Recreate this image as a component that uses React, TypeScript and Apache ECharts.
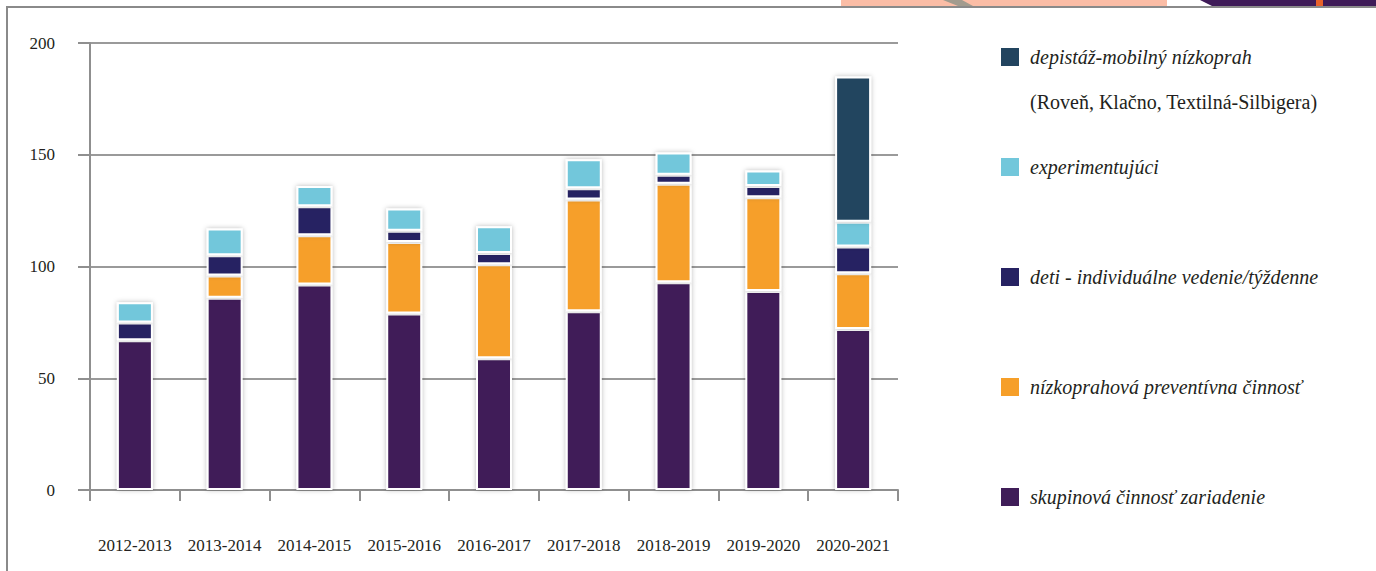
import React, { useEffect, useRef } from "react";
import * as echarts from "echarts";

const categories = [
  "2012-2013", "2013-2014", "2014-2015", "2015-2016", "2016-2017",
  "2017-2018", "2018-2019", "2019-2020", "2020-2021",
];
const skupinova = [67, 86, 92, 79, 59, 80, 93, 89, 72];
const nizkoprahova = [null, 10, 22, 32, 42, 50, 44, 42, 25];
const deti = [8, 9, 13, 5, 5, 5, 4, 5, 12];
const experimentujuci = [9, 12, 9, 10, 12, 13, 10, 7, 11];
const depistaz = [null, null, null, null, null, null, null, null, 65];
const yTicks = [0, 50, 100, 150, 200];

const names = {
  s: "skupinová činnosť zariadenie",
  n: "nízkoprahová preventívna činnosť",
  d: "deti - individuálne vedenie/týždenne",
  e: "experimentujúci",
  p: "depistáž-mobilný nízkoprah",
};
const colors = {
  s: "#3f1d58",
  n: "#f69f29",
  d: "#262262",
  e: "#72c7db",
  p: "#22445f",
};

export default function App() {
  const ref = useRef<HTMLDivElement>(null);
  useEffect(() => {
    if (!ref.current) return;
    const chart = echarts.init(ref.current, undefined, { renderer: "svg" });
    const mkSeries = (key: string, data: (number | null)[]) => ({
      name: (names as any)[key],
      type: "bar",
      stack: "total",
      barWidth: 36,
      data,
      itemStyle: {
        color: (colors as any)[key],
        borderColor: "#ffffff",
        borderWidth: 2,
        shadowColor: "rgba(0,0,0,0.28)",
        shadowBlur: 5,
      },
    });
    const axisText = { color: "#231f20", fontFamily: "Liberation Serif", fontSize: 17 };
    chart.setOption({
      animation: false,
      backgroundColor: "#ffffff",
      grid: { left: 90, right: 478, top: 43, bottom: 81, containLabel: false },
      legend: {
        orient: "vertical",
        left: 1001,
        top: 47,
        itemWidth: 18,
        itemHeight: 18,
        itemGap: 90,
        padding: 0,
        icon: "rect",
        data: [names.p, names.e, names.d, names.n, names.s],
        itemStyle: { borderWidth: 0, shadowBlur: 0 },
        textStyle: {
          color: "#231f20",
          fontFamily: "Liberation Serif",
          fontStyle: "italic",
          fontSize: 20,
          padding: [0, 0, 0, 6],
        },
      },
      xAxis: {
        type: "category",
        data: categories,
        axisLine: { show: true, lineStyle: { color: "#8f8f8f", width: 2 } },
        axisTick: { show: true, length: 11, lineStyle: { color: "#8f8f8f", width: 2 } },
        axisLabel: { ...axisText, margin: 47, interval: 0 },
      },
      yAxis: {
        type: "value",
        min: yTicks[0],
        max: yTicks[yTicks.length - 1],
        interval: 50,
        axisLine: { show: true, lineStyle: { color: "#8f8f8f", width: 2 } },
        axisTick: { show: true, length: 12, lineStyle: { color: "#8f8f8f", width: 2 } },
        splitLine: { show: true, lineStyle: { color: "#9a9a9a", width: 2 } },
        axisLabel: { ...axisText, margin: 35, padding: [10, 0, 0, 0] },
      },
      graphic: [
        { type: "rect", shape: { x: 841, y: 0, width: 326, height: 6 }, style: { fill: "#fbbda6" } },
        { type: "polygon", shape: { points: [[943, 0], [962, 0], [973, 6], [958, 6]] }, style: { fill: "#a29b8e" } },
        { type: "polygon", shape: { points: [[1200, 0], [1376, 0], [1376, 6], [1212, 6]] }, style: { fill: "#3f1b58" } },
        { type: "rect", shape: { x: 1316, y: 0, width: 7, height: 6 }, style: { fill: "#e8622a" } },
        { type: "line", shape: { x1: 7, y1: 7, x2: 1376, y2: 7 }, style: { stroke: "#8a8a8a", lineWidth: 2 } },
        { type: "line", shape: { x1: 7, y1: 6, x2: 7, y2: 571 }, style: { stroke: "#8a8a8a", lineWidth: 2 } },
        {
          type: "text",
          left: 1030,
          top: 92,
          style: {
            text: "(Roveň, Klačno, Textilná-Silbigera)",
            fill: "#231f20",
            font: "20px 'Liberation Serif'",
          },
        },
      ],
      series: [
        mkSeries("s", skupinova),
        mkSeries("n", nizkoprahova),
        mkSeries("d", deti),
        mkSeries("e", experimentujuci),
        mkSeries("p", depistaz),
      ],
    });
    return () => chart.dispose();
  }, []);
  return (
    <div
      ref={ref}
      style={{ position: "absolute", left: 0, top: 0, width: 1376, height: 571 }}
    />
  );
}
